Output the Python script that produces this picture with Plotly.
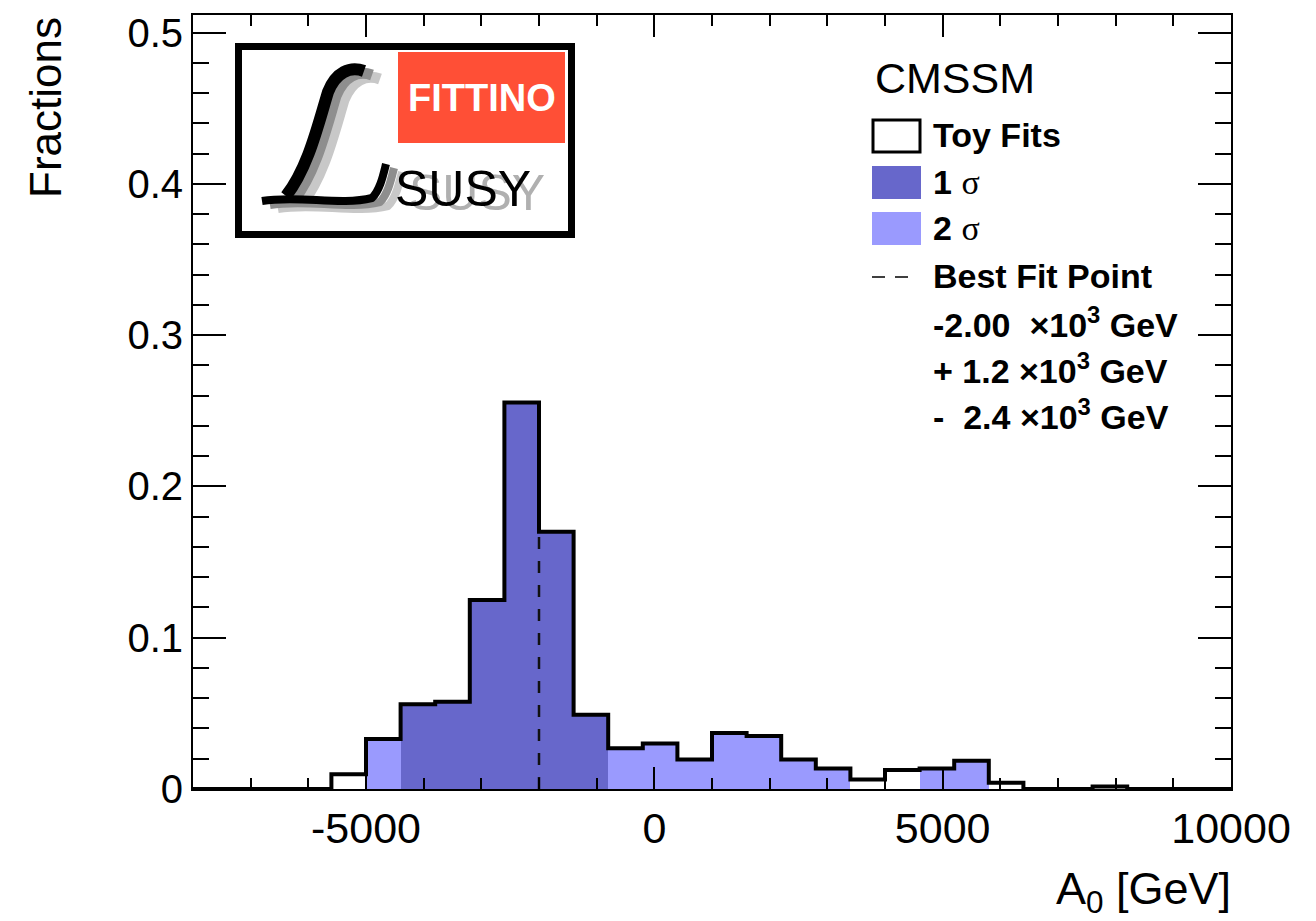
import numpy as np
import plotly.graph_objects as go

# ---------------- data ----------------
bin_width = 600
bin_left_edges = [-8000, -7400, -6800, -6200, -5600, -5000, -4400, -3800, -3200, -2600,
                  -2000, -1400, -800, -200, 400, 1000, 1600, 2200, 2800, 3400,
                  4000, 4600, 5200, 5800, 6400, 7000, 7600, 8200, 8800, 9400]
fractions = [0.0, 0.0, 0.0, 0.0, 0.0097, 0.033, 0.056, 0.0577, 0.125, 0.2555,
             0.170, 0.049, 0.027, 0.030, 0.0195, 0.037, 0.035, 0.0195, 0.0135, 0.0063,
             0.0126, 0.0136, 0.0187, 0.0042, 0.0, 0.0, 0.0017, 0.0, 0.0, 0.0]
# 0 = outside, 1 = 1 sigma, 2 = 2 sigma
sigma_region = [0, 0, 0, 0, 0, 2, 1, 1, 1, 1,
                1, 1, 2, 2, 2, 2, 2, 2, 2, 0,
                0, 2, 2, 0, 0, 0, 0, 0, 0, 0]
best_fit = -2000.0
x_tick_vals = [-5000, 0, 5000, 10000]
x_tick_labels = ["-5000", "0", "5000", "10000"]
y_tick_vals = [0, 0.1, 0.2, 0.3, 0.4, 0.5]
y_tick_labels = ["0", "0.1", "0.2", "0.3", "0.4", "0.5"]
legend_title = "CMSSM"
legend_lines = ["<b>Toy Fits</b>",
                "<b>1</b> <span style='font-family:Liberation Serif;font-weight:normal'>σ</span>",
                "<b>2</b> <span style='font-family:Liberation Serif;font-weight:normal'>σ</span>",
                "<b>Best Fit Point</b>",
                "<b>-2.00\u00a0 ×10<sup>3</sup> GeV</b>",
                "<b>+ 1.2 ×10<sup>3</sup> GeV</b>",
                "<b>-\u00a0 2.4 ×10<sup>3</sup> GeV</b>"]

C1 = "#6767CB"
C2 = "#9A9AFE"
FONT = "Liberation Sans, Arial, sans-serif"

# ---------------- geometry helpers (figure pixels -> paper) ----------------
W, H = 1316, 921
PL, PR, PT, PB = 193, 1231, 15, 789


def px(p):
    return (p - PL) / (PR - PL)


def py(p):
    return (PB - p) / (PB - PT)


def path(cmds):
    out = []
    for c in cmds:
        if isinstance(c, str):
            out.append(c)
        else:
            out.append(f"{px(c[0]):.5f},{py(c[1]):.5f}")
    return " ".join(out)


centers = [e + bin_width / 2 for e in bin_left_edges]
edges = bin_left_edges + [bin_left_edges[-1] + bin_width]

fig = go.Figure()

y1 = [f if s == 1 else None for f, s in zip(fractions, sigma_region)]
y2 = [f if s == 2 else None for f, s in zip(fractions, sigma_region)]
fig.add_trace(go.Bar(x=centers, y=y2, width=bin_width, marker=dict(color=C2, line=dict(width=0)),
                     name="2 σ", showlegend=False))
fig.add_trace(go.Bar(x=centers, y=y1, width=bin_width, marker=dict(color=C1, line=dict(width=0)),
                     name="1 σ", showlegend=False))
fig.add_trace(go.Scatter(x=edges, y=fractions + [fractions[-1]], mode="lines",
                         line=dict(shape="hv", color="black", width=4),
                         name="Toy Fits", showlegend=False))
bf_idx = int(np.searchsorted(edges, best_fit, side="right") - 1)
fig.add_trace(go.Scatter(x=[best_fit, best_fit], y=[0, fractions[bf_idx]], mode="lines",
                         line=dict(color="#111111", width=2.5, dash="12px,12px"),
                         name="Best Fit Point", showlegend=False))

shapes = []
annotations = []

# ---------------- logo ----------------
shapes.append(dict(type="rect", xref="paper", yref="paper", x0=px(238.5), x1=px(571.5),
                   y0=py(234.5), y1=py(46.5), line=dict(color="black", width=7), fillcolor="white", layer="above"))
shapes.append(dict(type="rect", xref="paper", yref="paper", x0=px(398), x1=px(565),
                   y0=py(143), y1=py(52), line=dict(width=0), fillcolor="#FF4F36", layer="above"))


def script_L(dx, dy, color, w1, w2):
    top = path(["M", (364 + dx, 71 + dy), "C", (350 + dx, 66 + dy), (336 + dx, 72 + dy), (328 + dx, 92 + dy),
                "C", (318 + dx, 125 + dy), (308 + dx, 168 + dy), (286 + dx, 196 + dy)])
    bottom = path(["M", (262 + dx, 201 + dy), "C", (300 + dx, 195 + dy), (340 + dx, 206 + dy), (372 + dx, 198 + dy),
                   "C", (380 + dx, 190 + dy), (383 + dx, 176 + dy), (386 + dx, 164 + dy)])
    shapes.append(dict(type="path", xref="paper", yref="paper", path=top, line=dict(color=color, width=w1), layer="above"))
    shapes.append(dict(type="path", xref="paper", yref="paper", path=bottom, line=dict(color=color, width=w2), layer="above"))


script_L(16, 8, "#C8C8C8", 11, 8)
script_L(8, 4, "#8E8E8E", 11, 8)
script_L(0, 0, "black", 12, 8)

annotations.append(dict(text="<b>FITTINO</b>", x=px(482), y=py(98), xref="paper", yref="paper", showarrow=False,
                        xanchor="center", yanchor="middle",
                        font=dict(family=FONT, size=38, color="white")))
annotations.append(dict(text="SUSY", x=px(477), y=py(193), xref="paper", yref="paper", showarrow=False,
                        xanchor="center", yanchor="middle",
                        font=dict(family=FONT, size=50, color="#B0B0B0")))
annotations.append(dict(text="SUSY", x=px(463), y=py(189), xref="paper", yref="paper", showarrow=False,
                        xanchor="center", yanchor="middle",
                        font=dict(family=FONT, size=50, color="black")))

# ---------------- legend ----------------
shapes.append(dict(type="rect", xref="paper", yref="paper", x0=px(873), x1=px(920), y0=py(152), y1=py(120),
                   line=dict(color="black", width=3), fillcolor="white", layer="above"))
shapes.append(dict(type="rect", xref="paper", yref="paper", x0=px(872), x1=px(921), y0=py(199), y1=py(166),
                   line=dict(width=0), fillcolor=C1, layer="above"))
shapes.append(dict(type="rect", xref="paper", yref="paper", x0=px(872), x1=px(921), y0=py(245), y1=py(212),
                   line=dict(width=0), fillcolor=C2, layer="above"))
shapes.append(dict(type="line", xref="paper", yref="paper", x0=px(872), x1=px(908), y0=py(277), y1=py(277),
                   line=dict(color="black", width=1.5, dash="13px,10px"), layer="above"))

annotations.append(dict(text=legend_title, x=px(873), y=py(78), xref="paper", yref="paper", showarrow=False,
                        xanchor="left", yanchor="middle", font=dict(family=FONT, size=43, color="black")))
line_y = [135, 182, 228, 276, 322, 368, 415]
for t, yy in zip(legend_lines, line_y):
    annotations.append(dict(text=t, x=px(931), y=py(yy), xref="paper", yref="paper", showarrow=False,
                            xanchor="left", yanchor="middle", font=dict(family=FONT, size=34, color="black")))

# ---------------- axis titles ----------------
annotations.append(dict(text="Fractions", x=px(45), y=py(108), xref="paper", yref="paper", showarrow=False,
                        textangle=-90, xanchor="center", yanchor="middle",
                        font=dict(family=FONT, size=44, color="black")))
annotations.append(dict(text="A<sub>0</sub> [GeV]", x=px(1233), y=py(891), xref="paper", yref="paper",
                        showarrow=False, xanchor="right", yanchor="middle",
                        font=dict(family=FONT, size=45, color="black")))

fig.update_layout(
    width=W, height=H,
    margin=dict(l=PL, r=W - PR, t=PT, b=H - PB, pad=0),
    paper_bgcolor="white", plot_bgcolor="white",
    barmode="overlay", bargap=0,
    showlegend=False,
    shapes=shapes, annotations=annotations,
    font=dict(family=FONT, color="black"),
)
fig.update_xaxes(range=[-8000, 10000], tickvals=x_tick_vals, ticktext=x_tick_labels,
                 ticks="inside", ticklen=22, tickwidth=2, tickcolor="black",
                 minor=dict(dtick=1000, tick0=0, ticks="inside", ticklen=11, tickwidth=2, tickcolor="black"),
                 showline=True, linewidth=2, linecolor="black", mirror="ticks",
                 showgrid=False, zeroline=False, tickfont=dict(family=FONT, size=43, color="black"))
fig.update_yaxes(range=[0, 0.5116], tickvals=y_tick_vals, ticktext=y_tick_labels,
                 ticks="inside", ticklen=33, tickwidth=2, tickcolor="black",
                 minor=dict(dtick=0.02, tick0=0, ticks="inside", ticklen=16, tickwidth=2, tickcolor="black"),
                 showline=True, linewidth=2, linecolor="black", mirror="ticks",
                 showgrid=False, zeroline=False, tickfont=dict(family=FONT, size=40, color="black"))

fig.write_html("out.html")
